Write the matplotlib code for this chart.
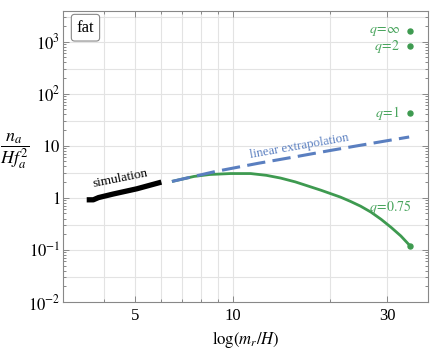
import matplotlib
matplotlib.use('Agg')
import matplotlib.pyplot as plt
from matplotlib.ticker import FixedLocator, FixedFormatter, NullFormatter

plt.rcParams['font.family'] = ['Liberation Serif', 'DejaVu Serif']
plt.rcParams['mathtext.fontset'] = 'stix'

# ---- data ----
sim_x = [3.55, 3.72, 3.86, 4.28, 5.07, 6.03]
sim_y = [0.915, 0.915, 1.01, 1.18, 1.49, 2.0]

lin_x = [6.5, 8.85, 12, 16, 20, 25, 30, 35]
lin_y = [2.06, 3.2, 4.6, 6.3, 8.1, 10.3, 12.5, 14.7]

q075_x = [6.5, 7.6, 8.5, 9.85, 11.36, 12.7, 14.06, 15.6, 17.4, 18.7, 20.06, 21.5,
          23.1, 24.8, 26.7, 28.7, 30.8, 33, 35.3]
q075_y = [2.06, 2.57, 2.8, 2.92, 2.92, 2.7, 2.39, 2.02, 1.62, 1.40, 1.2, 1.03,
          0.85, 0.69, 0.53, 0.385, 0.27, 0.185, 0.118]

q_end_x = 35.3
q_points = [1580, 813, 42.5]
q_labels = [r'$q\!=\!\infty$', r'$q\!=\!2$', r'$q\!=\!1$']
q075_label = r'$q\!=\!0.75$'

x_ticks = [5, 10, 30]
x_ticklabels = ['5', '10', '30']
y_ticks = [1e-2, 1e-1, 1, 10, 1e2, 1e3]
y_ticklabels = [r'$10^{-2}$', r'$10^{-1}$', r'$1$', r'$10$', r'$10^{2}$', r'$10^{3}$']

green = '#3e9a50'
green_txt = '#4aa55e'
blue = '#5a7fc0'
gray = '#888888'

fig = plt.figure(figsize=(4.3, 3.49), dpi=100)
ax = fig.add_axes([0.1465, 0.1347, 0.8488, 0.8346])
ax.set_xscale('log')
ax.set_yscale('log')
ax.set_xlim(3, 40)
ax.set_ylim(1e-2, 3900)

# grid
for gx in [4, 5, 6, 7, 8, 9, 10, 20, 30]:
    ax.axvline(gx, color='#e3e3e3', lw=0.8, zorder=0)
for d in range(-2, 4):
    for m in [1, 3]:
        v = m * 10.0 ** d
        if 1e-2 < v < 3900:
            ax.axhline(v, color='#e3e3e3', lw=0.8, zorder=0)

# curves
ax.plot(lin_x, lin_y, color=blue, lw=2.2, dashes=(6, 2.4), zorder=3)
ax.plot(q075_x, q075_y, color=green, lw=2.0, zorder=2, solid_capstyle='butt',
        solid_joinstyle='round')
ax.plot(sim_x, sim_y, color='black', lw=3.8, zorder=4, solid_capstyle='butt')

ax.plot([q_end_x] * len(q_points), q_points, 'o', color=green, ms=3.6, zorder=5)
ax.plot([q075_x[-1]], [q075_y[-1]], 'o', color=green, ms=3.6, zorder=5)

for v, lab in zip(q_points, q_labels):
    ax.annotate(lab, xy=(q_end_x, v), xytext=(-7.5, 0), textcoords='offset points',
                ha='right', va='center', color=green_txt, fontsize=10)
ax.text(35.6, 0.68, q075_label, ha='right', va='center', color=green_txt, fontsize=10)

ax.text(4.52, 2.32, 'simulation', rotation=11.3, ha='center', va='center', fontsize=9.5)
ax.text(16.1, 9.6, 'linear extrapolation', rotation=10, ha='center', va='center',
        fontsize=9.3, color=blue)

ax.text(0.0616, 0.9417, 'fat', transform=ax.transAxes, ha='center', va='center',
        fontsize=12, bbox=dict(boxstyle='round,pad=0.32,rounding_size=0.2', fc='white',
                               ec=gray, lw=0.8))

# ticks
ax.xaxis.set_major_locator(FixedLocator(x_ticks))
ax.xaxis.set_major_formatter(FixedFormatter(x_ticklabels))
ax.xaxis.set_minor_locator(FixedLocator([4, 6, 7, 8, 9, 20, 40]))
ax.xaxis.set_minor_formatter(NullFormatter())
ax.yaxis.set_major_locator(FixedLocator(y_ticks))
ax.yaxis.set_major_formatter(FixedFormatter(y_ticklabels))
minors = [m * 10.0 ** d for d in range(-2, 4) for m in range(2, 10)]
ax.yaxis.set_minor_locator(FixedLocator(minors))
ax.yaxis.set_minor_formatter(NullFormatter())
ax.tick_params(which='both', direction='in', top=True, right=True, color=gray,
               width=0.7, labelsize=12)
ax.tick_params(which='major', length=4)
ax.tick_params(which='minor', length=2.2)
ax.tick_params(axis='x', pad=4)
ax.tick_params(axis='y', pad=2)
for s in ax.spines.values():
    s.set_color(gray)
    s.set_linewidth(0.8)

fig.text(245.5 / 430, 1 - 340 / 349, r'$\log(m_r/H)$', ha='center', va='center', fontsize=12)
fig.text(15 / 430, 1 - 151 / 349, r'$\dfrac{n_a}{H f_a^2}$', ha='center', va='center',
         fontsize=13)

fig.savefig('out.png', dpi=100)
